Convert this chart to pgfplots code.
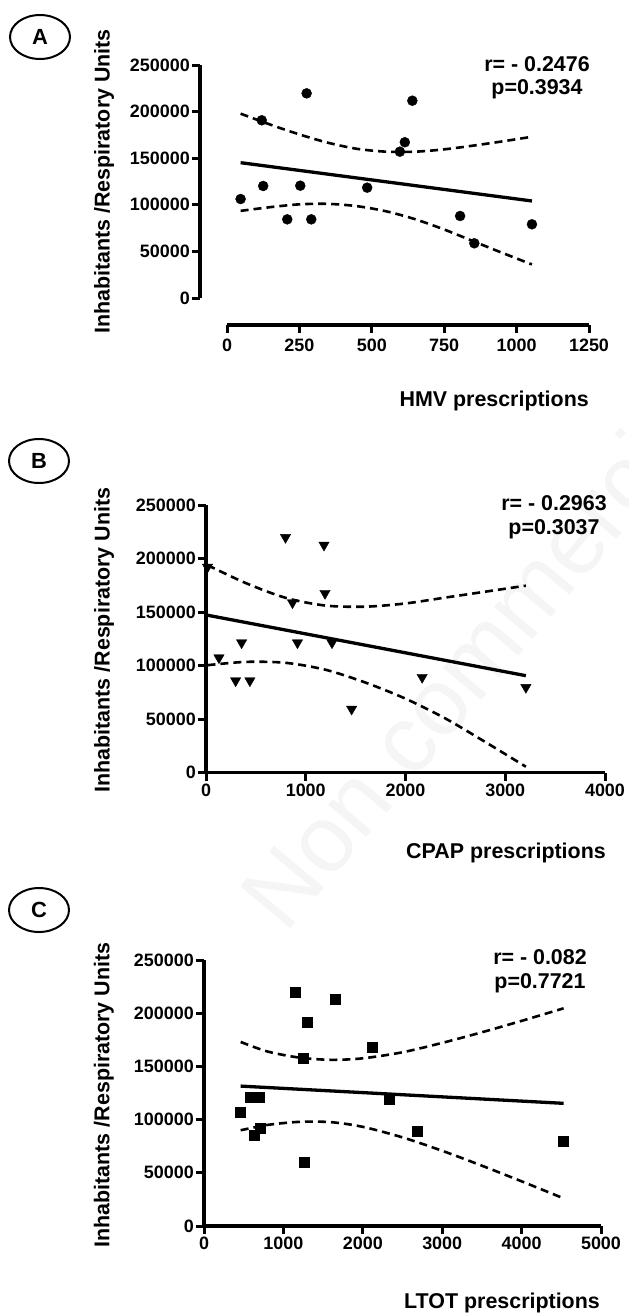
\documentclass[border=0pt]{standalone}
\usepackage{fontspec}
\setmainfont{Liberation Sans}
\usepackage{pgfplots}
\pgfplotsset{compat=1.18}

\newcommand{\labfont}{\fontsize{21.5}{24}\selectfont\bfseries}

\pgfplotsset{
  prism/.style={
    scale only axis,
    axis x line*=bottom,
    axis y line*=left,
    axis line style={line width=3.6bp},
    tick style={black, line width=3bp},
    tick align=outside,
    major tick length=8bp,
    ymin=0, ymax=250000,
    ytick={0,50000,100000,150000,200000,250000},
    scaled ticks=false,
    /pgf/number format/fixed,
    /pgf/number format/precision=0,
    /pgf/number format/1000 sep={},
    /pgf/number format/assume math mode=true,
    tick label style={font=\fontsize{18}{18}\selectfont\bfseries},
    yticklabel style={inner sep=2bp},
    xticklabel style={inner sep=3bp},
    clip=false,
  },
  fit/.style={black, line width=3.3bp, no marks},
  band/.style={black, line width=2.6bp, dash pattern=on 8bp off 5bp, smooth, no marks},
}

\begin{document}
\begin{tikzpicture}
\useasboundingbox (0,0) rectangle (629bp,-1313bp);

% watermark
\node[rotate=50, anchor=base west, text=black!4, font=\fontsize{95}{95}\selectfont, inner sep=0pt]
  at (285bp,-935bp) {Non commercial use only};

% panel letters
\foreach \l/\cx/\cy in {A/40/37, B/39/461, C/39/910}{
  \draw[line width=2bp] (\cx bp,-\cy bp) ellipse [x radius=30bp, y radius=22bp];
  \node[font=\fontsize{22}{22}\selectfont\bfseries] at (\cx bp,-\cy bp) {\l};
}

% ---------------- A: HMV
\begin{axis}[prism, at={(227bp,-298bp)}, anchor=south west,
  width=362bp, height=233bp,
  xmin=0, xmax=1250, xtick={0,250,500,750,1000,1250},
  axis x line shift=27bp, axis y line shift=27bp,
  xticklabel style={yshift=-3bp},
  xlabel={HMV prescriptions},
  ylabel={Inhabitants /Respiratory Units},
  every axis x label/.style={at={(rel axis cs:1,-0.442)}, anchor=east, font=\labfont, inner sep=0pt},
  every axis y label/.style={at={(rel axis cs:-0.3398,0.5)}, rotate=90, anchor=center, font=\labfont, inner sep=0pt},
]
\addplot[only marks, mark=*, mark size=5bp, black] coordinates {
  (47,106200) (120,190700) (125,120200) (208,84400) (253,120500) (275,219600) (291,84400)
  (484,118400) (597,157000) (614,167100) (640,211700) (805,88000) (854,58700) (1053,79100)
};
\addplot[fit] coordinates {(47,145200) (1053,104100)};
\addplot[band] coordinates {
  (47,197800) (150,186000) (250,175500) (350,166500) (450,160000) (550,157000)
  (650,157000) (750,159500) (850,163500) (950,168000) (1053,173000)
};
\addplot[band] coordinates {
  (47,93500) (150,97500) (250,100500) (350,101000) (450,98500) (550,93000)
  (650,84500) (750,73500) (850,61000) (950,48500) (1053,36000)
};
\end{axis}

% ---------------- B: CPAP
\begin{axis}[prism, at={(206bp,-772.5bp)}, anchor=south west,
  width=399bp, height=267.5bp,
  xmin=0, xmax=4000, xtick={0,1000,2000,3000,4000},
  xlabel={CPAP prescriptions},
  ylabel={Inhabitants /Respiratory Units},
  every axis x label/.style={at={(rel axis cs:1.0025,-0.299)}, anchor=east, font=\labfont, inner sep=0pt},
  every axis y label/.style={at={(rel axis cs:-0.2556,0.495)}, rotate=90, anchor=center, font=\labfont, inner sep=0pt},
]
\addplot[only marks, mark=triangle*, mark options={rotate=180}, mark size=6bp, black] coordinates {
  (15,192000) (130,107300) (297,85800) (357,121300) (440,85800) (797,219800) (867,158700)
  (917,121300) (1183,212600) (1193,167500) (1263,121300) (1460,59300) (2167,89000) (3207,79600)
};
\addplot[fit] coordinates {(15,147000) (3207,90500)};
\addplot[band] coordinates {
  (15,193800) (400,177000) (800,163200) (1200,156000) (1600,155000)
  (2000,158000) (2400,163500) (2800,169000) (3207,174600)
};
\addplot[band] coordinates {
  (15,100300) (400,103400) (800,102500) (1200,96000) (1600,84000)
  (2000,69000) (2400,50500) (2800,28500) (3207,5400)
};
\end{axis}

% ---------------- C: LTOT
\begin{axis}[prism, at={(204bp,-1226bp)}, anchor=south west,
  width=397bp, height=266bp,
  xmin=0, xmax=5000, xtick={0,1000,2000,3000,4000,5000},
  xlabel={LTOT prescriptions},
  ylabel={Inhabitants /Respiratory Units},
  every axis x label/.style={at={(rel axis cs:0.9975,-0.2895)}, anchor=east, font=\labfont, inner sep=0pt},
  every axis y label/.style={at={(rel axis cs:-0.252,0.4925)}, rotate=90, anchor=center, font=\labfont, inner sep=0pt},
]
\addplot[only marks, mark=square*, mark size=5bp, black] coordinates {
  (462,107400) (588,121500) (689,121500) (638,85500) (705,91800) (1146,219600) (1297,191100)
  (1255,157600) (1259,60100) (1649,213000) (2124,167600) (2333,119000) (2682,89300) (4529,79900)
};
\addplot[fit] coordinates {(462,131500) (4529,115300)};
\addplot[band] coordinates {
  (462,173000) (800,164000) (1200,158300) (1600,156200) (2000,157600) (2500,163300)
  (3000,172100) (3500,182100) (4000,192800) (4529,204600)
};
\addplot[band] coordinates {
  (462,90000) (800,95000) (1200,97900) (1600,97600) (2000,93200) (2500,83300)
  (3000,70700) (3500,56700) (4000,42000) (4529,26000)
};
\end{axis}

% correlation statistics
\node[align=center, font=\fontsize{21.5}{23}\selectfont\bfseries, inner sep=0pt]
  at (537bp,-78bp) {r= - 0.2476\\p=0.3934};
\node[align=center, font=\fontsize{21.5}{24}\selectfont\bfseries, inner sep=0pt]
  at (554bp,-517bp) {r= - 0.2963\\p=0.3037};
\node[align=center, font=\fontsize{21.5}{24}\selectfont\bfseries, inner sep=0pt]
  at (540bp,-971bp) {r= - 0.082\\p=0.7721};
\end{tikzpicture}
\end{document}
